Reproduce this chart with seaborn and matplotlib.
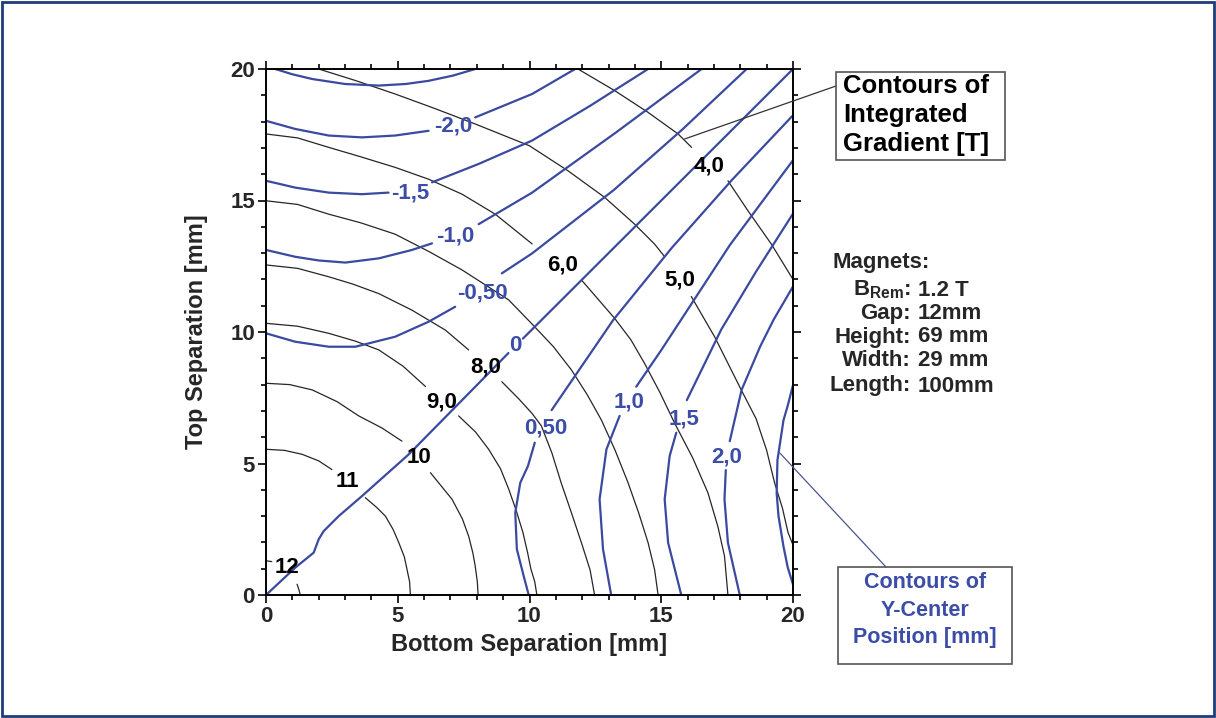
import numpy as np
import pandas as pd
import matplotlib
matplotlib.use("Agg")
import matplotlib.pyplot as plt
import seaborn as sns
from matplotlib.patches import Rectangle
from matplotlib.ticker import MultipleLocator

# ---------------- data (data units, mm) ----------------
# Contours of integrated gradient [T]; each contour = list of segments (gaps at labels)
grad_12 = [[(0.0, 1.30), (0.22, 1.27)], [(1.18, 0.41), (1.25, 0.20), (1.30, 0.0)]]
grad_11 = [[(0.0, 5.54), (0.70, 5.50), (1.37, 5.35), (2.00, 5.10), (2.50, 4.77)],
           [(3.77, 3.70), (4.20, 3.33), (4.53, 3.00), (4.82, 2.50), (5.04, 1.99), (5.25, 1.45), (5.35, 0.98),
            (5.45, 0.50), (5.48, 0.0)]]
grad_10 = [[(0.0, 8.05), (0.90, 8.00), (1.75, 7.80), (2.70, 7.35), (3.52, 6.81), (4.40, 6.35), (5.16, 5.85)],
           [(6.24, 4.65), (7.06, 3.64), (7.45, 2.90), (7.69, 2.24), (7.85, 1.60), (7.94, 1.10), (8.02, 0.50),
            (8.05, 0.0)]]
grad_9 = [[(0.0, 10.33), (1.20, 10.22), (2.38, 9.95), (3.40, 9.65), (4.28, 9.32), (5.20, 8.70), (6.05, 7.93)],
          [(7.31, 6.81), (7.95, 6.20), (8.45, 5.54), (8.90, 4.80), (9.21, 4.03), (9.50, 3.20), (9.75, 2.38),
           (9.93, 1.60), (10.05, 1.00), (10.20, 0.50), (10.28, 0.0)]]
grad_8 = [[(0.0, 12.55), (1.20, 12.42), (2.38, 12.10), (3.30, 11.82), (4.28, 11.46), (5.54, 10.83), (6.81, 10.07),
           (7.69, 9.32)],
          [(8.95, 8.11), (9.60, 7.45), (10.10, 6.90), (10.45, 6.43), (10.85, 5.40), (11.20, 4.27), (11.60, 3.10),
           (11.97, 1.99), (12.30, 0.95), (12.47, 0.0)]]
grad_7 = [[(0.0, 14.99), (1.20, 14.85), (2.38, 14.48), (3.60, 14.15), (4.90, 13.72), (6.20, 13.05), (7.44, 12.36),
           (9.21, 11.22), (10.10, 10.30), (10.90, 9.45), (11.59, 8.56), (12.20, 7.60), (12.73, 6.65), (13.25, 5.50),
           (13.74, 4.27), (14.15, 3.10), (14.50, 1.99), (14.75, 0.95), (14.88, 0.0)]]
grad_6 = [[(0.0, 17.53), (1.20, 17.38), (2.38, 17.02), (3.60, 16.66), (4.90, 16.26), (6.17, 15.81), (7.44, 15.24),
           (8.70, 14.48), (10.10, 13.35)],
          [(11.97, 11.98), (13.23, 10.52), (13.85, 9.70), (14.37, 8.80), (14.95, 7.70), (15.50, 6.55),
           (16.20, 5.20), (16.77, 3.89), (17.15, 2.60), (17.40, 1.48), (17.53, 0.0)]]
grad_5 = [[(2.0, 20.0), (3.40, 19.56), (4.90, 19.05), (6.40, 18.50), (7.94, 17.91), (10.0, 17.08), (11.46, 16.13),
           (12.85, 15.12), (13.99, 14.10), (14.75, 13.34), (15.13, 12.86)],
          [(16.14, 11.35), (17.03, 9.81), (18.04, 7.79), (18.60, 6.70), (19.00, 5.50), (19.30, 4.27),
           (19.60, 3.30), (19.81, 2.38), (20.0, 1.90)]]
grad_4 = [[(11.84, 20.0), (13.23, 19.18), (14.50, 18.35), (15.64, 17.53), (16.15, 17.02)],
          [(17.53, 15.75), (18.29, 14.61), (19.18, 13.34), (20.0, 12.0)]]

grad_label_text = ["12", "11", "10", "9,0", "8,0", "6,0", "5,0", "4,0"]
grad_label_x = [0.80, 3.07, 5.79, 6.68, 8.32, 11.24, 15.70, 16.83]
grad_label_y = [1.03, 4.33, 5.22, 7.35, 8.68, 12.55, 11.98, 16.32]

# Contours of Y-center position [mm]
ypos_m25 = [[(0.35, 20.0), (1.0, 19.80), (1.75, 19.62), (3.00, 19.43), (4.28, 19.37), (5.30, 19.43),
             (6.17, 19.55), (7.10, 19.75), (7.94, 20.0)]]
ypos_m20 = [[(0.0, 18.03), (1.11, 17.72), (2.38, 17.47), (3.64, 17.40), (4.90, 17.47), (6.17, 17.65)],
            [(7.94, 18.16), (10.10, 19.05), (11.73, 20.0)]]
ypos_m15 = [[(0.0, 15.75), (1.11, 15.49), (2.38, 15.30), (3.64, 15.24), (4.65, 15.30)],
            [(6.30, 15.69), (8.07, 16.39), (10.10, 17.28), (12.30, 18.60), (14.50, 20.0)]]
ypos_m10 = [[(0.0, 13.12), (1.11, 12.86), (2.00, 12.72), (3.01, 12.64), (4.28, 12.80), (5.54, 13.12), (6.30, 13.37)],
            [(8.07, 14.10), (10.10, 15.30), (13.30, 17.60), (16.53, 20.0)]]
ypos_m05 = [[(0.0, 9.95), (1.11, 9.63), (2.38, 9.44), (3.39, 9.44), (4.90, 9.82), (6.17, 10.39), (7.18, 10.96)],
            [(8.95, 12.23), (10.10, 12.99), (13.20, 15.40), (15.80, 17.70), (18.24, 20.0)]]
ypos_0 = [[(0.0, 0.0), (1.11, 1.04), (1.81, 1.61), (2.00, 2.12), (2.19, 2.43), (2.76, 3.00), (3.64, 3.76),
           (5.42, 5.35), (9.20, 9.20)],
          [(9.75, 9.75), (20.0, 20.0)]]
ypos_p05 = [[(9.97, 0.0), (9.78, 0.72), (9.52, 1.74), (9.46, 3.13), (9.65, 4.27), (9.94, 4.90), (10.20, 5.79)],
            [(10.84, 7.03), (12.15, 8.95), (13.18, 10.46), (15.40, 13.20), (17.70, 15.80), (20.0, 18.24)]]
ypos_p10 = [[(13.10, 0.0), (12.79, 1.74), (12.66, 3.64), (12.92, 5.54), (13.42, 6.81)],
            [(14.05, 7.92), (15.00, 9.31), (17.60, 13.30), (20.0, 16.53)]]
ypos_p15 = [[(15.76, 0.0), (15.26, 1.99), (15.13, 3.64), (15.32, 5.29), (15.57, 6.17)],
            [(15.97, 7.41), (17.28, 10.10), (18.60, 12.30), (20.0, 14.50)]]
ypos_p20 = [[(17.98, 0.0), (17.53, 1.99), (17.40, 3.64), (17.45, 4.75)],
            [(17.60, 5.85), (18.05, 7.80), (18.75, 9.44), (19.26, 10.46), (20.0, 11.73)]]
ypos_p25 = [[(20.0, 0.40), (19.80, 1.05), (19.64, 1.84), (19.45, 3.00), (19.38, 3.87), (19.41, 5.13),
             (19.64, 6.65), (19.80, 7.20), (20.0, 7.98)]]

ypos_label_text = ["-2,0", "-1,5", "-1,0", "-0,50", "0", "0,50", "1,0", "1,5", "2,0"]
ypos_label_x = [7.12, 5.48, 7.18, 8.20, 9.45, 10.60, 13.78, 15.87, 17.48]
ypos_label_y = [17.85, 15.30, 13.66, 11.47, 9.50, 6.35, 7.35, 6.68, 5.24]

x_ticks = [0, 5, 10, 15, 20]
y_ticks = [0, 5, 10, 15, 20]
x_label = "Bottom Separation [mm]"
y_label = "Top Separation [mm]"

magnet_keys = ["Gap:", "Height:", "Width:", "Length:"]
magnet_vals = ["12mm", "69 mm", "29 mm", "100mm"]

# ---------------- styling ----------------
BLUE = "#3a4aa0"
BLUE_TXT = "#3b4da6"
GRAY = "#262626"

sns.set_theme(style="ticks")
plt.rcParams['font.family'] = ['Liberation Sans', 'DejaVu Sans']
plt.rcParams['font.weight'] = 'bold'
plt.rcParams['mathtext.fontset'] = 'custom'
plt.rcParams['mathtext.rm'] = 'Liberation Sans:bold'
plt.rcParams['mathtext.bf'] = 'Liberation Sans:bold'
plt.rcParams['mathtext.it'] = 'Liberation Sans:bold'


def to_frame(contours):
    rows = []
    for name, segs in contours.items():
        for i, seg in enumerate(segs):
            for (x, y) in seg:
                rows.append((f"{name}_{i}", x, y))
    return pd.DataFrame(rows, columns=["seg", "x", "y"])


grad_df = to_frame({"g12": grad_12, "g11": grad_11, "g10": grad_10, "g9": grad_9, "g8": grad_8,
                    "g7": grad_7, "g6": grad_6, "g5": grad_5, "g4": grad_4})
ypos_df = to_frame({"m25": ypos_m25, "m20": ypos_m20, "m15": ypos_m15, "m10": ypos_m10, "m05": ypos_m05,
                    "z0": ypos_0, "p05": ypos_p05, "p10": ypos_p10, "p15": ypos_p15, "p20": ypos_p20,
                    "p25": ypos_p25})

W, H = 1216, 718
fig = plt.figure(figsize=(W / 100, H / 100), dpi=100)
fig.patch.set_facecolor("white")
ax = fig.add_axes([266 / W, (H - 595) / H, 527 / W, 526 / H])
ax.set_facecolor("white")

sns.lineplot(data=grad_df, x="x", y="y", units="seg", estimator=None, sort=False,
             color=GRAY, lw=0.9, ax=ax, legend=False)
sns.lineplot(data=ypos_df, x="x", y="y", units="seg", estimator=None, sort=False,
             color=BLUE, lw=1.6, ax=ax, legend=False)

for t, x, y in zip(grad_label_text, grad_label_x, grad_label_y):
    ax.text(x, y, t, ha="center", va="center", fontsize=16, fontweight="bold", color="black")
for t, x, y in zip(ypos_label_text, ypos_label_x, ypos_label_y):
    ax.text(x, y, t, ha="center", va="center", fontsize=16, fontweight="bold", color=BLUE_TXT)

ax.set_xlim(0, 20)
ax.set_ylim(0, 20)
ax.set_xticks(x_ticks)
ax.set_yticks(y_ticks)
ax.xaxis.set_minor_locator(MultipleLocator(1))
ax.yaxis.set_minor_locator(MultipleLocator(1))
ax.tick_params(which="both", direction="out", top=True, right=True, color="black", width=1.2)
ax.tick_params(which="major", length=6, labelsize=16, pad=2)
ax.tick_params(which="minor", length=3.5)
for lab in ax.get_xticklabels() + ax.get_yticklabels():
    lab.set_fontweight("bold")
for s in ax.spines.values():
    s.set_visible(True)
    s.set_linewidth(1.4)
    s.set_color("black")

ax.set_xlabel(x_label, fontsize=17, fontweight="bold")
ax.set_ylabel(y_label, fontsize=17, fontweight="bold")
ax.xaxis.set_label_coords(0.5, (595 - 645) / 526)
ax.xaxis.label.set_verticalalignment("center")
ax.yaxis.set_label_coords((196 - 266) / 527, 0.5)
ax.yaxis.label.set_verticalalignment("center")

# ---------------- annotations ----------------
def fx(px):
    return px / W


def fy(py):
    return 1 - py / H


fig.add_artist(Rectangle((fx(836), fy(160)), (1005 - 836) / W, (160 - 72) / H, transform=fig.transFigure,
                         fill=False, ec="#555555", lw=1.2))
for txt, py in zip(["Contours of", "Integrated", "Gradient [T]"], [86, 115, 144]):
    fig.text(fx(843), fy(py), txt, ha="left", va="center", fontsize=18.5, fontweight="bold", color="black")

fig.add_artist(Rectangle((fx(838), fy(664)), (1012 - 838) / W, (664 - 567) / H, transform=fig.transFigure,
                         fill=False, ec="#555555", lw=1.2))
for txt, py in zip(["Contours of", "Y-Center", "Position [mm]"], [583, 611, 638]):
    fig.text(fx(925), fy(py), txt, ha="center", va="center", fontsize=15.5, fontweight="bold", color=BLUE_TXT)

ax.annotate("", xy=(15.89, 17.34), xycoords="data", xytext=(836, H - 86), textcoords="figure pixels",
            arrowprops=dict(arrowstyle="-", lw=0.9, color="#333333", shrinkA=0, shrinkB=0), annotation_clip=False)
ax.annotate("", xy=(19.5, 5.4), xycoords="data", xytext=(886, H - 567), textcoords="figure pixels",
            arrowprops=dict(arrowstyle="-", lw=0.9, color="#4a5690", shrinkA=0, shrinkB=0), annotation_clip=False)

fig.text(fx(832), fy(262), "Magnets:", ha="left", va="center", fontsize=16, fontweight="bold")
fig.text(fx(911), fy(290), r"B$_{\mathrm{Rem}}$:", ha="right", va="center", fontsize=16, fontweight="bold")
fig.text(fx(918), fy(290), "1.2 T", ha="left", va="center", fontsize=16, fontweight="bold")
for k, v, py in zip(magnet_keys, magnet_vals, [313, 337, 361, 386]):
    fig.text(fx(911), fy(py), k, ha="right", va="center", fontsize=16, fontweight="bold")
    fig.text(fx(918), fy(py), v, ha="left", va="center", fontsize=16, fontweight="bold")

fig.add_artist(Rectangle((2 / W, 2 / H), (W - 4) / W, (H - 4) / H, transform=fig.transFigure,
                         fill=False, ec="#1f3b7a", lw=2))

fig.savefig("out.png", dpi=100, facecolor="white")
